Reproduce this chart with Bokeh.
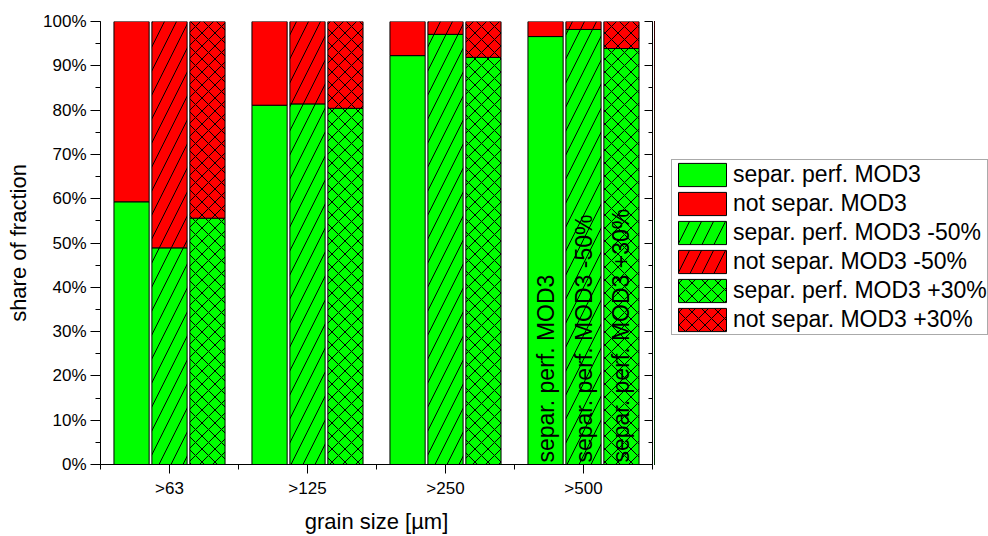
import math
from bokeh.plotting import figure
from bokeh.layouts import row
from bokeh.models import (Range1d, FixedTicker, LinearAxis, NumeralTickFormatter,
                          ColumnDataSource)
from bokeh.transform import dodge
from bokeh.core.properties import value
from bokeh.embed import file_html
from bokeh.resources import INLINE

# ---- data ----
categories = [">63", ">125", ">250", ">500"]
series_suffix = ["", " -50%", " +30%"]
sep_mod3 = [0.593, 0.811, 0.923, 0.966]
sep_mod3_m50 = [0.489, 0.814, 0.971, 0.982]
sep_mod3_p30 = [0.556, 0.804, 0.919, 0.939]
y_ticks = [0.0, 0.1, 0.2, 0.3, 0.4, 0.5, 0.6, 0.7, 0.8, 0.9, 1.0]

FONT = "Liberation Sans"
GREEN = "#00FF00"
RED = "#FF0000"
hatches = [" ", "/", "x"]
hscales = [12, 24, 13]
offsets = [-0.275, 0.0, 0.275]
bar_w = 0.255

pos = [i + 1 for i in range(len(categories))]
minor_y = [i * 0.05 for i in range(21)]

W1 = 654
p = figure(width=W1, height=536, output_backend="svg", toolbar_location=None,
           x_range=Range1d(0.5, len(categories) + 0.5), y_range=Range1d(0, 1),
           min_border_left=100, min_border_right=2, min_border_top=21,
           min_border_bottom=72)
p.outline_line_color = None
p.xgrid.visible = False
p.ygrid.visible = False

# legend-only figure on the right
p2 = figure(width=988 - W1, height=536, output_backend="svg", toolbar_location=None,
            x_range=Range1d(100, 101), y_range=Range1d(0, 1),
            min_border_left=0, min_border_right=0, min_border_top=0,
            min_border_bottom=0)
p2.axis.visible = False
p2.grid.visible = False
p2.outline_line_color = None

series = [sep_mod3, sep_mod3_m50, sep_mod3_p30]
for k, vals in enumerate(series):
    src = ColumnDataSource(dict(x=pos, sep=vals, one=[1.0] * len(vals)))
    for fig in (p, p2):
        xs = dodge("x", offsets[k], range=fig.x_range)
        fig.vbar(x=xs, width=bar_w, bottom=0, top="sep", source=src,
                 fill_color=GREEN, line_color="black", line_width=1,
                 hatch_pattern=hatches[k], hatch_color="black", hatch_scale=hscales[k],
                 hatch_weight=1, legend_label="separ. perf. MOD3" + series_suffix[k])
        fig.vbar(x=xs, width=bar_w, bottom="sep", top="one", source=src,
                 fill_color=RED, line_color="black", line_width=1,
                 hatch_pattern=hatches[k], hatch_color="black", hatch_scale=hscales[k],
                 hatch_weight=1, legend_label="not separ. MOD3" + series_suffix[k])

p.legend.visible = False

# rotated labels in last group
lab_src = ColumnDataSource(dict(
    x=[pos[-1] + o for o in offsets], y=[0.0] * 3,
    t=["separ. perf. MOD3" + s for s in series_suffix]))
p.text(x="x", y="y", text="t", source=lab_src, angle=math.pi / 2,
       text_align="left", text_baseline="middle", text_font=value(FONT),
       text_font_size="23px", text_color="black", y_offset=-2)

# axes
p.xaxis.ticker = FixedTicker(ticks=pos, minor_ticks=[i + 0.5 for i in range(len(categories) + 1)])
p.xaxis.major_label_overrides = {pp: c for pp, c in zip(pos, categories)}
p.yaxis.ticker = FixedTicker(ticks=y_ticks, minor_ticks=minor_y)
p.yaxis.formatter = NumeralTickFormatter(format="0%")

for ax in (p.xaxis[0], p.yaxis[0]):
    ax.axis_line_color = "black"
    ax.axis_line_width = 1
    ax.major_tick_line_color = "black"
    ax.minor_tick_line_color = "black"
    ax.major_tick_in = 0
    ax.minor_tick_in = 0
    ax.major_label_text_font = FONT
    ax.major_label_text_font_size = "17px"
    ax.major_label_text_color = "black"
    ax.axis_label_text_font = FONT
    ax.axis_label_text_font_size = "22px"
    ax.axis_label_text_font_style = "normal"
    ax.axis_label_text_color = "black"

p.xaxis.major_tick_out = 9
p.xaxis.minor_tick_out = 5
p.yaxis.major_tick_out = 10
p.yaxis.minor_tick_out = 5
p.xaxis.axis_label = "grain size [µm]"
p.yaxis.axis_label = "share of fraction"
p.xaxis.major_label_standoff = 5
p.xaxis.axis_label_standoff = 8
p.yaxis.major_label_standoff = 4
p.yaxis.axis_label_standoff = 9

right = LinearAxis(ticker=FixedTicker(ticks=y_ticks, minor_ticks=minor_y))
right.major_label_overrides = {t: "" for t in y_ticks}
right.major_label_standoff = 0
right.major_tick_in = 8
right.major_tick_out = 0
right.minor_tick_in = 4
right.minor_tick_out = 0
right.axis_line_color = "black"
right.major_tick_line_color = "black"
right.minor_tick_line_color = "black"
p.add_layout(right, "right")

leg = p2.legend[0]
leg.location = (17, 129)
leg.label_text_font = FONT
leg.label_text_font_size = "23px"
leg.label_text_color = "black"
leg.glyph_width = 60
leg.glyph_height = 29
leg.label_height = 29
leg.label_standoff = 1
leg.spacing = 0
leg.padding = 0
leg.margin = 0
leg.border_line_color = "#555555"
leg.border_line_width = 1
leg.background_fill_alpha = 1

layout = row(p, p2, spacing=0)
open("out.html", "w").write(file_html(layout, INLINE))
